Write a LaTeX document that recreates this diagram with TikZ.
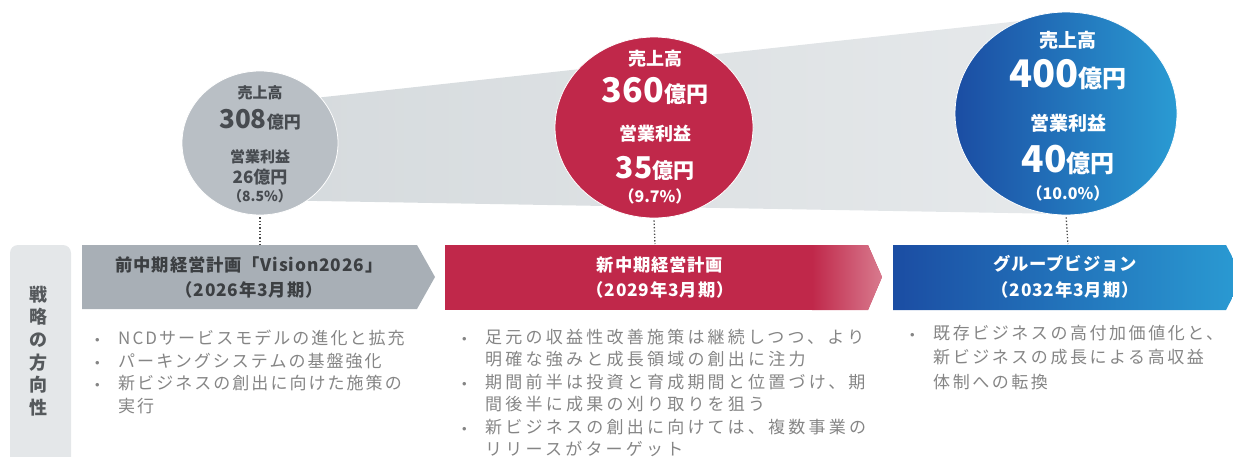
\documentclass[tikz,border=0pt]{standalone}
\usepackage{fontspec}
\setmainfont{Noto Sans CJK JP}
\newfontfamily\bodyjp[LetterSpace=12]{Noto Sans CJK JP}
\newfontfamily\bodyjpw[LetterSpace=19]{Noto Sans CJK JP}
\newfontfamily\bodyjpc[LetterSpace=15]{Noto Sans CJK JP}
\newfontfamily\headjp[LetterSpace=5]{Noto Sans CJK JP}
\newfontfamily\latinf{Liberation Sans}
\usetikzlibrary{shapes.geometric}
\definecolor{bandL}{HTML}{D5DADD}
\definecolor{bandR}{HTML}{E6E9EB}
\definecolor{cgray}{HTML}{B9BFC5}
\definecolor{gtext}{HTML}{474B50}
\definecolor{cred}{HTML}{C0284A}
\definecolor{credL}{HTML}{D87A8E}
\definecolor{cblueL}{HTML}{1B4DA3}
\definecolor{cblueR}{HTML}{2A9BD3}
\definecolor{bgray}{HTML}{A8AFB6}
\definecolor{bgtext}{HTML}{3C3F42}
\definecolor{btext}{HTML}{858585}
\definecolor{vbox}{HTML}{E4E7E9}
\definecolor{vtext}{HTML}{55595C}
\definecolor{dotc}{HTML}{4A4A4A}
\newcommand\bitem{\makebox[23pt][l]{\latinf\fontsize{13}{13}\selectfont •}}
\newcommand\bcont{\hspace*{23pt}}
\begin{document}
\begin{tikzpicture}[x=1pt,y=-1pt,
  circ/.style={ellipse, inner sep=0, draw=white, line width=0.8pt},
  ctext/.style={inner sep=0, anchor=base, font=\bfseries},
  btitle/.style={inner sep=0, anchor=center, font=\headjp\bfseries\fontsize{17.3}{17.3}\selectfont},
  bullets/.style={inner sep=0, anchor=base west, align=left, text=btext},
  dotline/.style={dotted, line width=1.3pt, dotc, shorten <=2pt, shorten >=1pt}]
\useasboundingbox (0,0) rectangle (1233,456);
\begin{scope}
\clip (0,0) rectangle (1233,456);
% band
\shade[left color=bandL, right color=bandR] (260,104) -- (1066,16) -- (1066,214) -- (260,200) -- cycle;
% circles
\node[circ, fill=cgray, minimum width=156pt, minimum height=144pt] (c1) at (260,143) {};
\node[circ, fill=cred, minimum width=198pt, minimum height=181pt,
  path picture={\shade[left color=cred, right color=credL] (715,30) rectangle (760,225);}] (c2) at (654,127.5) {};
\node[circ, left color=cblueL, right color=cblueR, minimum width=222pt, minimum height=203pt] (c3) at (1066,113.5) {};
% circle texts
\node[ctext, text=gtext] (g1) at (260,98) {\fontsize{15}{15}\selectfont 売上高};
\node[ctext, text=gtext] (g2) at (260,128) {\fontsize{26}{26}\selectfont 308\fontsize{17}{17}\selectfont 億円};
\node[ctext, text=gtext] (g3) at (260,162) {\fontsize{15}{15}\selectfont 営業利益};
\node[ctext, text=gtext] (g4) at (260,183) {\fontsize{17}{17}\selectfont 26億円};
\node[ctext, text=gtext] (g5) at (260,201) {\fontsize{14}{14}\selectfont （8.5\%）};
\node[ctext, text=white] (r1) at (655,65) {\fontsize{18}{18}\selectfont 売上高};
\node[ctext, text=white] (r2) at (655,102) {\fontsize{34}{34}\selectfont 360\fontsize{22}{22}\selectfont 億円};
\node[ctext, text=white] (r3) at (655,140) {\fontsize{18}{18}\selectfont 営業利益};
\node[ctext, text=white] (r4) at (655,178) {\fontsize{30}{30}\selectfont 35\fontsize{21}{21}\selectfont 億円};
\node[ctext, text=white] (r5) at (655,202) {\fontsize{16}{16}\selectfont （9.7\%）};
\node[ctext, text=white] (u1) at (1068,47) {\fontsize{19}{19}\selectfont 売上高};
\node[ctext, text=white] (u2) at (1068,87) {\fontsize{38}{38}\selectfont 400\fontsize{24}{24}\selectfont 億円};
\node[ctext, text=white] (u3) at (1068,130) {\fontsize{19}{19}\selectfont 営業利益};
\node[ctext, text=white] (u4) at (1068,172) {\fontsize{37}{37}\selectfont 40\fontsize{24}{24}\selectfont 億円};
\node[ctext, text=white] (u5) at (1068,199) {\fontsize{16}{16}\selectfont （10.0\%）};
% banners
\fill[bgray] (82,245) -- (417,245) -- (435,277) -- (417,309) -- (82,309) -- cycle;
\begin{scope}
\clip (445,245) -- (868,245) -- (882,277) -- (868,310) -- (445,310) -- cycle;
\fill[cred] (445,245) rectangle (882,310);
\shade[left color=cred, right color=credL] (812,245) rectangle (882,310);
\end{scope}
\shade[left color=cblueL, right color=cblueR] (893,245) -- (1226,245) -- (1243,277) -- (1226,310) -- (893,310) -- cycle;
\coordinate (b1) at (260,245);
\coordinate (b2) at (655,245);
\coordinate (b3) at (1068,245);
\draw[dotline] (c1.south) -- (b1);
\draw[dotline] (c2.south) -- (b2);
\draw[dotline] (c3.south) -- (b3);
\node[btitle, text=bgtext] (t1a) at (249,265) {前中期経営計画「Vision2026」};
\node[btitle, text=bgtext] (t1b) at (249,290) {（2026年3月期）};
\node[btitle, text=white] (t2a) at (660,265) {新中期経営計画};
\node[btitle, text=white] (t2b) at (660,290) {（2029年3月期）};
\node[btitle, text=white] (t3a) at (1065,264) {グループビジョン};
\node[btitle, text=white] (t3b) at (1065,290) {（2032年3月期）};
% vertical label
\fill[vbox, rounded corners=8pt] (10,470) -- (10,245) -- (71,245) -- (71,470);
\node[inner sep=0, align=center, text=vtext, font=\bfseries\fontsize{18}{22.6}\selectfont] (vl) at (38,351) {戦\\略\\の\\方\\向\\性};
% bullets (anchor = baseline of the last line)
\node[bullets, font=\bodyjp\fontsize{17}{22.5}\selectfont] (l1) at (95,412) {\bitem NCDサービスモデルの進化と拡充\\\bitem パーキングシステムの基盤強化\\\bitem 新ビジネスの創出に向けた施策の\\\bcont 実行};
\node[bullets, font=\bodyjpw\fontsize{17}{22.4}\selectfont] (l2) at (462,455.5) {\bitem 足元の収益性改善施策は継続しつつ、より\\\bcont 明確な強みと成長領域の創出に注力\\\bitem 期間前半は投資と育成期間と位置づけ、期\\\bcont 間後半に成果の刈り取りを狙う\\\bitem 新ビジネスの創出に向けては、複数事業の\\\bcont リリースがターゲット};
\node[bullets, font=\bodyjpc\fontsize{17}{24.3}\selectfont] (l3) at (910,388) {\bitem 既存ビジネスの高付加価値化と、\\\bcont 新ビジネスの成長による高収益\\\bcont 体制への転換};
\end{scope}
\end{tikzpicture}
\end{document}
